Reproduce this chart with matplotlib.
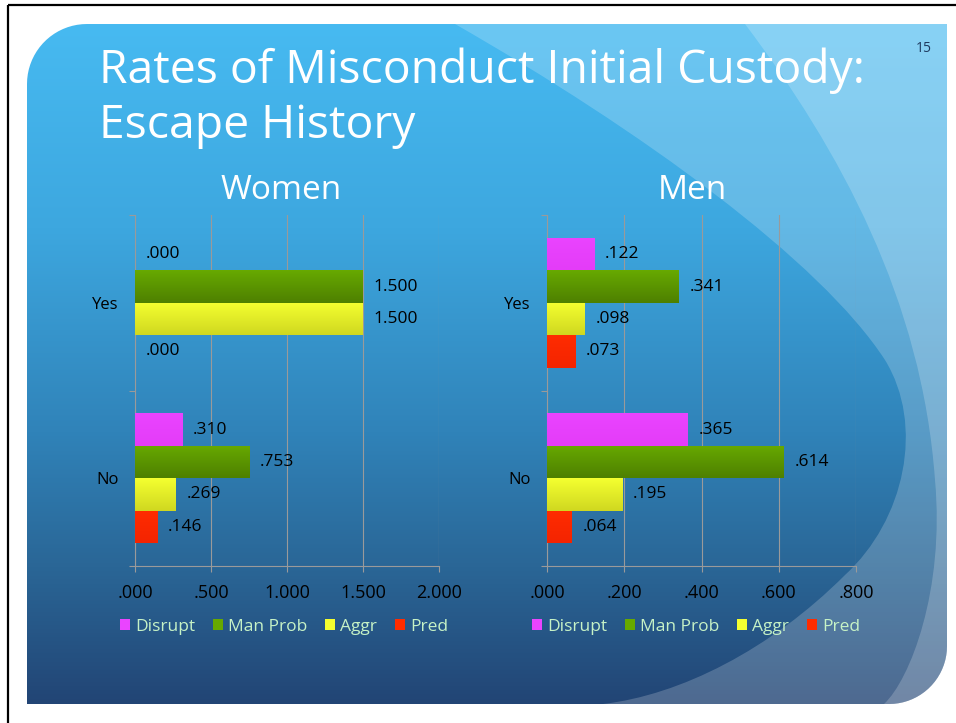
import numpy as np
import matplotlib
matplotlib.use("Agg")
import matplotlib.pyplot as plt
from matplotlib.path import Path
from matplotlib.patches import PathPatch, Patch
from matplotlib.colors import LinearSegmentedColormap

plt.rcParams['font.family'] = ['Open Sans', 'DejaVu Sans']

# Data
categories = ['Yes', 'No']
series = ['Disrupt', 'Man Prob', 'Aggr', 'Pred']
women = {
    'Disrupt': [0.000, 0.310],
    'Man Prob': [1.500, 0.753],
    'Aggr': [1.500, 0.269],
    'Pred': [0.000, 0.146],
}
men = {
    'Disrupt': [0.122, 0.365],
    'Man Prob': [0.341, 0.614],
    'Aggr': [0.098, 0.195],
    'Pred': [0.073, 0.064],
}
women_ticks = [0.0, 0.5, 1.0, 1.5, 2.0]
men_ticks = [0.0, 0.2, 0.4, 0.6, 0.8]

# bar fills: (top colour, bottom colour)
fills = {
    'Disrupt': ('#EA44FF', '#E43CF8'),
    'Man Prob': ('#67A900', '#4E8000'),
    'Aggr': ('#F4FF30', '#D0D820'),
    'Pred': ('#FF2C00', '#F42400'),
}

W, H = 956, 723
fig = plt.figure(figsize=(W / 100, H / 100), dpi=100)
fig.patch.set_facecolor('white')

# ---- slide background (pixel coords) ----
bg = fig.add_axes([0, 0, 1, 1])
bg.set_xlim(0, W)
bg.set_ylim(H, 0)
bg.axis('off')

x0, x1, y0, y1 = 27, 947, 24, 704
r1, r2 = 60, 58
pts = []
t = np.linspace(np.pi, 1.5 * np.pi, 20)
pts += list(zip(x0 + r1 + r1 * np.cos(t), y0 + r1 + r1 * np.sin(t)))
pts += [(x1, y0)]
t = np.linspace(0, 0.5 * np.pi, 20)
pts += list(zip(x1 - r2 + r2 * np.cos(t), y1 - r2 + r2 * np.sin(t)))
pts += [(x0, y1)]
slide = PathPatch(Path(pts + [pts[0]], closed=True), facecolor='none', edgecolor='none')
bg.add_patch(slide)

grad = LinearSegmentedColormap.from_list('g', [(0, '#47BAF1'), (0.3, '#3DA7DF'),
                                               (0.6, '#3083B9'), (0.8, '#2A6696'),
                                               (1, '#224575')])
img = bg.imshow(np.linspace(0, 1, 256).reshape(-1, 1), cmap=grad, aspect='auto',
                extent=(x0, x1, y1, y0), origin='upper', zorder=0)
img.set_clip_path(slide)

M, C4, L = Path.MOVETO, Path.CURVE4, Path.LINETO
swoosh_b = Path([(455, 24), (640, 130), (820, 260), (885, 360),
                 (925, 425), (905, 520), (845, 575),
                 (770, 650), (680, 695), (603, 704),
                 (970, 730), (970, 0), (455, 0), (455, 24)],
                [M, C4, C4, C4, C4, C4, C4, C4, C4, C4, L, L, L, L])
swoosh_a = Path([(745, 24), (840, 150), (922, 300), (935, 480),
                 (945, 590), (910, 680), (884, 704),
                 (970, 730), (970, 0), (745, 0), (745, 24)],
                [M, C4, C4, C4, C4, C4, C4, L, L, L, L])
for p in (swoosh_b, swoosh_a):
    pp = PathPatch(p, facecolor='white', edgecolor='none', alpha=0.2, zorder=1)
    bg.add_patch(pp)
    pp.set_clip_path(slide)

# border lines
bg.plot([8, W], [5, 5], color='black', lw=1.6, solid_capstyle='butt')
bg.plot([8, 8], [5, H], color='black', lw=1.6, solid_capstyle='butt')

# titles
bg.text(99, 83, 'Rates of Misconduct Initial Custody:', color='white', fontsize=33.3,
        va='baseline', ha='left')
bg.text(99, 138, 'Escape History', color='white', fontsize=33.3, va='baseline', ha='left')
bg.text(281, 199, 'Women', color='white', fontsize=24, va='baseline', ha='center')
bg.text(692, 199, 'Men', color='white', fontsize=24, va='baseline', ha='center')
bg.text(924, 52, '15', color='#1F3A5F', fontsize=10, va='baseline', ha='center')


def fmt(v):
    s = f'{v:.3f}'
    return s[1:] if s.startswith('0') else s


def draw_panel(rect, data, ticks, legend_x):
    ax = fig.add_axes(rect)
    ax.patch.set_alpha(0)
    y = np.arange(len(categories))
    h = 0.185
    offs = [-1.5 * h, -0.5 * h, 0.5 * h, 1.5 * h]
    for s, off in zip(series, offs):
        vals = data[s]
        bars = ax.barh(y + off, vals, height=h, color=fills[s][0], edgecolor='none', zorder=3)
        for b, v in zip(bars, vals):
            if v > 0:
                g = LinearSegmentedColormap.from_list('b', [fills[s][0], fills[s][1]])
                im = ax.imshow(np.linspace(0, 1, 32).reshape(-1, 1), cmap=g, aspect='auto',
                               extent=(0, v, b.get_y() + h, b.get_y()), origin='upper', zorder=3)
                im.set_clip_path(b)
            ax.annotate(fmt(v), (v, b.get_y() + h / 2), xytext=(7.5, 0),
                        textcoords='offset points', va='center', ha='left',
                        fontsize=12.5, color='black', zorder=4)
    ax.set_xlim(ticks[0], ticks[-1])
    ax.set_ylim(1.5, -0.5)
    ax.set_xticks(ticks)
    ax.set_xticklabels([fmt(v) for v in ticks], fontsize=13, color='black')
    ax.set_yticks(y)
    ax.set_yticklabels(categories, fontsize=12, color='black')
    ax.set_yticks([-0.5, 0.5, 1.5], minor=True)
    ax.tick_params(axis='y', which='major', length=0, pad=12)
    ax.tick_params(axis='y', which='minor', length=4, color='#9A9A9A', width=0.8)
    ax.tick_params(axis='x', length=4, color='#9A9A9A', width=0.8, pad=9)
    ax.grid(axis='x', color='#9A9A9A', lw=0.8, zorder=1)
    ax.set_axisbelow(True)
    for side in ('top', 'right'):
        ax.spines[side].set_visible(False)
    for side in ('left', 'bottom'):
        ax.spines[side].set_color('#9A9A9A')
        ax.spines[side].set_linewidth(0.8)
    handles = [Patch(facecolor=fills[s][0], edgecolor='none') for s in series]
    ax.legend(handles, series, loc='center', bbox_to_anchor=(legend_x / W, 1 - 627 / H),
              bbox_transform=fig.transFigure, ncol=4, frameon=False, fontsize=12.5,
              handlelength=0.6, handleheight=0.6, handletextpad=0.3,
              columnspacing=1.0, labelcolor='#C6F2C6')
    return ax


ax_top, ax_h = 1 - 566 / H, 351 / H
draw_panel([135.3 / W, ax_top, 304 / W, ax_h], women, women_ticks, 284)
draw_panel([547.3 / W, ax_top, 308.7 / W, ax_h], men, men_ticks, 696)

fig.savefig('out.png', dpi=100, facecolor='white')
